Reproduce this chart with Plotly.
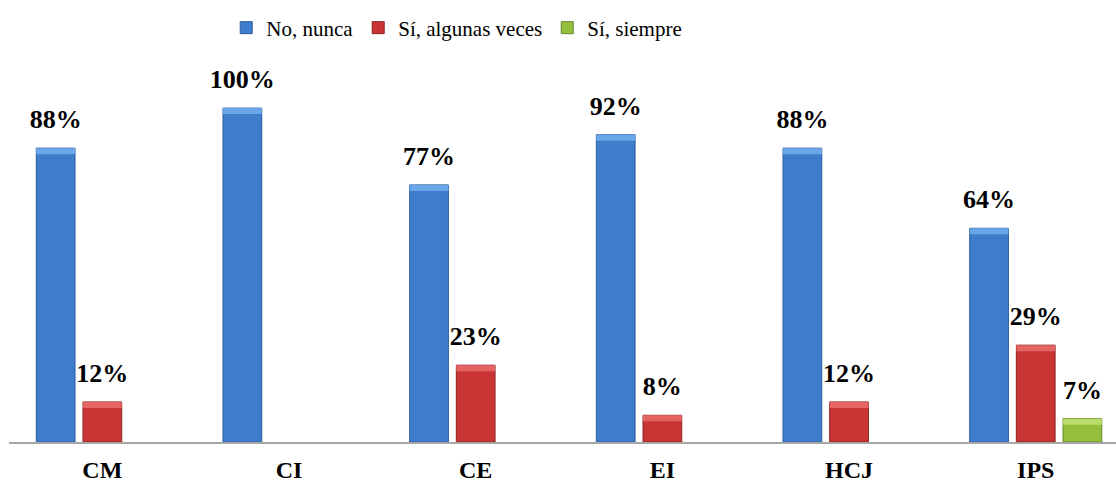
import plotly.graph_objects as go

categories = ["CM", "CI", "CE", "EI", "HCJ", "IPS"]
series_names = ["No, nunca", "Sí, algunas veces", "Sí, siempre"]
no_nunca = [88, 100, 77, 92, 88, 64]
si_algunas = [12, None, 23, 8, 12, 29]
si_siempre = [None, None, None, None, None, 7]

series_values = [no_nunca, si_algunas, si_siempre]
fill_colors = ["#3e7dcc", "#c93535", "#94c03e"]
cap_colors = ["#6ba7e8", "#e46464", "#badc6a"]
edge_colors = ["#2c5c9c", "#8c2222", "#66882a"]
CAP = 1.8  # height of the lighter bevel band at the top of each bar (style)

FONT = "Liberation Serif"

fig = go.Figure()

for name, vals, fc, ec in zip(series_names, series_values, fill_colors, edge_colors):
    fig.add_trace(go.Bar(
        x=categories, y=vals, name=name,
        marker=dict(color=fc, line=dict(color=ec, width=1)),
        offsetgroup=name, legendgroup=name,
    ))

# lighter bevel band on top of each bar (same slot as its series)
for name, vals, cc in zip(series_names, series_values, cap_colors):
    fig.add_trace(go.Bar(
        x=categories,
        y=[CAP if v is not None else None for v in vals],
        base=[v - CAP if v is not None else None for v in vals],
        marker=dict(color=cc, line=dict(width=0)),
        offsetgroup=name, legendgroup=name, showlegend=False, hoverinfo="skip",
    ))

for name, vals in zip(series_names, series_values):
    fig.add_trace(go.Scatter(
        x=categories, y=vals, mode="markers+text",
        text=[f"{v}%" if v is not None else "" for v in vals],
        textposition="top center",
        textfont=dict(family=FONT, size=26, color="black", weight="bold"),
        marker=dict(size=20, color="rgba(0,0,0,0)"),
        showlegend=False, hoverinfo="skip",
        offsetgroup=name,
    ))

fig.update_layout(
    width=1116, height=482,
    margin=dict(l=9, r=0, t=60, b=40, autoexpand=False),
    paper_bgcolor="white", plot_bgcolor="white",
    barmode="group", bargap=0.25, bargroupgap=0.17,
    scattermode="group", scattergap=0.25,
    font=dict(family=FONT, color="black"),
    legend=dict(
        orientation="h", xref="container", yref="container",
        x=0.2027, xanchor="left", y=1 - 28 / 482, yanchor="middle",
        font=dict(family=FONT, size=21, color="black"),
        itemwidth=30,
    ),
    xaxis=dict(
        range=[-0.5, 5.43], showline=True, linecolor="#a6a6a6", linewidth=2,
        showgrid=False, ticks="outside", ticklen=5, tickcolor="rgba(0,0,0,0)",
        tickfont=dict(family=FONT, size=24, color="black", weight="bold"),
    ),
    yaxis=dict(
        range=[0, 114.4], showgrid=False, showticklabels=False,
        zeroline=False, showline=False,
    ),
)

fig.write_html(
    "out.html",
    config={"displayModeBar": False},
    post_script="document.body.style.margin='0';",
)
